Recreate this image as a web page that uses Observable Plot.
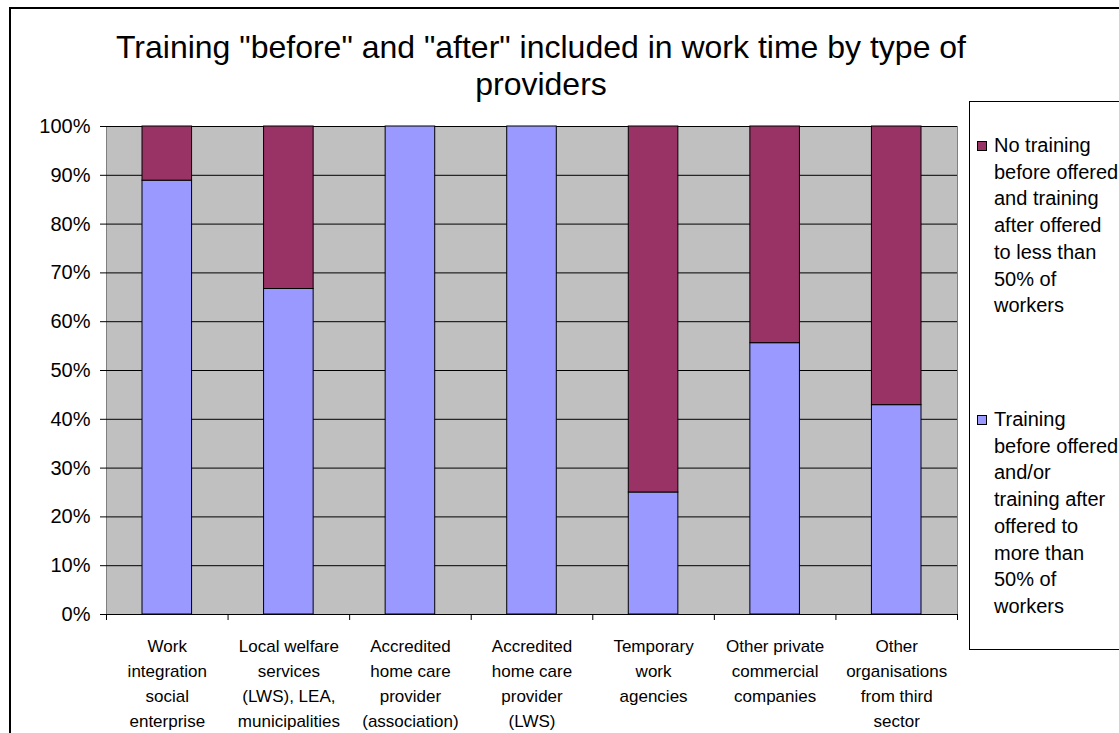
<!DOCTYPE html>
<html>
<head>
<meta charset="utf-8">
<script src="https://cdn.jsdelivr.net/npm/d3@7"></script>
<script src="https://cdn.jsdelivr.net/npm/@observablehq/plot@0.6"></script>
<style>
  body { margin: 0; background: #fff; font-family: "Liberation Sans", Arial, sans-serif; color: #000; }
  #chart { position: relative; width: 1119px; height: 733px; overflow: hidden; background: #fff; }
  #border { position: absolute; left: 9px; top: 7px; right: -10px; bottom: -10px; border-left: 2px solid #000; border-top: 2px solid #000; }
  #title { position: absolute; left: 0; width: 1082px; top: 29px; text-align: center; font-size: 32px; line-height: 37px; white-space: pre-line; }
  #plot { position: absolute; left: 0; top: 100px; }
  #legend { position: absolute; left: 969px; top: 101px; width: 200px; height: 547px; border: 1px solid #000; }
  .item { position: absolute; left: 7px; padding-left: 17px; font-size: 20px; line-height: 26.7px; white-space: pre-line; }
  .swatch { position: absolute; left: 0; top: 9px; width: 8px; height: 8px; border: 1px solid #000; }
</style>
</head>
<body>
<div id="chart">
  <div id="border"></div>
  <div id="title"></div>
  <div id="plot"></div>
  <div id="legend"></div>
</div>
<script>
// Provider types (x categories), line breaks as printed under each bar
const categories = [
  "Work\nintegration\nsocial\nenterprise",
  "Local welfare\nservices\n(LWS), LEA,\nmunicipalities",
  "Accredited\nhome care\nprovider\n(association)",
  "Accredited\nhome care\nprovider\n(LWS)",
  "Temporary\nwork\nagencies",
  "Other private\ncommercial\ncompanies",
  "Other\norganisations\nfrom third\nsector"
];

// Series names (stack order: bottom first)
const seriesNames = [
  "Training\nbefore offered\nand/or\ntraining after\noffered to\nmore than\n50% of\nworkers",
  "No training\nbefore offered\nand training\nafter offered\nto less than\n50% of\nworkers"
];

// Shares of providers, in percent
const trainingOffered = [88.9, 66.7, 100, 100, 25.0, 55.6, 42.9];
const noTraining      = [11.1, 33.3,   0,   0, 75.0, 44.4, 57.1];

const seriesColors = ["#9999FF", "#993366"];
const yTicks = [0, 10, 20, 30, 40, 50, 60, 70, 80, 90, 100];
const titleText = "Training \"before\" and \"after\" included in work time by type of\nproviders";

// Long-format rows for the stacked bars
const rows = [];
categories.forEach((c, i) => {
  rows.push({i, series: seriesNames[0], value: trainingOffered[i]});
  rows.push({i, series: seriesNames[1], value: noTraining[i]});
});

document.getElementById("title").textContent = titleText;

const plot = Plot.plot({
  width: 1119,
  height: 633,
  marginLeft: 106,
  marginRight: 162,
  marginTop: 26,
  marginBottom: 119,
  style: {fontFamily: "'Liberation Sans', Arial, sans-serif", color: "#000", background: "transparent", overflow: "visible"},
  x: {domain: [0, categories.length], axis: null},
  y: {domain: [0, 100], axis: null},
  color: {domain: seriesNames, range: seriesColors},
  marks: [
    Plot.frame({fill: "#C0C0C0", stroke: "#808080"}),
    Plot.ruleY(yTicks, {stroke: "#000", strokeWidth: 1}),
    Plot.rectY(rows.filter(d => d.value > 0), {
      x1: "i",
      x2: d => d.i + 1,
      y: "value",
      fill: "series",
      stroke: "#000",
      strokeWidth: 1,
      insetLeft: 36,
      insetRight: 36
    }),
    Plot.ruleY([0], {stroke: "#000", strokeWidth: 1}),
    Plot.axisY({
      ticks: yTicks,
      tickFormat: d => d + "%",
      tickSize: 6,
      tickPadding: 10,
      fontSize: 20,
      stroke: "#000",
      label: null
    }),
    Plot.axisX({
      ticks: d3.range(categories.length + 1),
      tickFormat: () => "",
      tickSize: 6,
      stroke: "#000",
      label: null
    }),
    Plot.axisX({
      ticks: categories.map((c, i) => i + 0.5),
      tickFormat: d => categories[Math.floor(d)],
      tickSize: 0,
      tickPadding: 20,
      fontSize: 17,
      lineHeight: 1.47,
      label: null
    })
  ]
});
document.getElementById("plot").appendChild(plot);

// Legend: top series listed first
const legend = document.getElementById("legend");
const legendTops = [30, 304];
[1, 0].forEach((s, k) => {
  const item = document.createElement("div");
  item.className = "item";
  item.style.top = legendTops[k] + "px";
  const sw = document.createElement("span");
  sw.className = "swatch";
  sw.style.background = seriesColors[s];
  item.appendChild(sw);
  item.appendChild(document.createTextNode(seriesNames[s]));
  legend.appendChild(item);
});
</script>
</body>
</html>
